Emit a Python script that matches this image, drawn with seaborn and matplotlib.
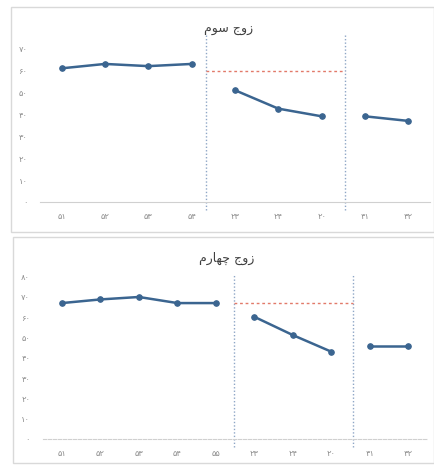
import pandas as pd
import seaborn as sns
import matplotlib.pyplot as plt
from matplotlib.patches import Rectangle

# =============================================================================
# DATA
# =============================================================================

# titles are pre-shaped (presentation forms, visual order) since matplotlib
# does not shape Arabic script
title_top = "\uFEE1\uFEEE\uFEB3 \uFE9D\uFEED\uFEAF"          # زوج سوم
title_bottom = "\uFEE1\uFEAD\uFE8E\uFEEC\uFB7C \uFE9D\uFEED\uFEAF"  # زوج چهارم

labels_top = ["۵۱", "۵۲", "۵۳", "۵۴", "۲۳", "۲۴", "۲۰", "۴۱", "۴۲"]
groups_top = [1, 1, 1, 1, 2, 2, 2, 3, 3]
values_top = [61, 63, 62, 63, 51, 42.6, 39.1, 39.1, 37]
ref_top = 60
seps_top = [3.33, 6.54]

labels_bottom = ["۵۱", "۵۲", "۵۳", "۵۴", "۵۵", "۲۳", "۲۴", "۲۰", "۴۱", "۴۲"]
groups_bottom = [1, 1, 1, 1, 1, 2, 2, 2, 3, 3]
values_bottom = [67, 68.8, 70, 67, 67, 60.2, 51.2, 43, 46, 46]
ref_bottom = 67
seps_bottom = [4.46, 7.57]

yticks_top = ["۰", "۱۰", "۲۰", "۳۰", "۴۰", "۵۰", "۶۰", "۷۰"]
yticks_bottom = ["۰", "۱۰", "۲۰", "۳۰", "۴۰", "۵۰", "۶۰", "۷۰", "۸۰"]

# =============================================================================
# STYLE
# =============================================================================

sns.set_style("white")
plt.rcParams["font.family"] = ["DejaVu Sans"]

line_color = "#3B6590"
sep_color = "#8EA6C6"
ref_color = "#E27A6A"
tick_color = "#8C8C8C"

fig = plt.figure(figsize=(4.34, 4.70), dpi=100)

# chart frames
fig.patches.append(Rectangle((11 / 434, 1 - 232 / 470), 423 / 434, 225 / 470,
                             transform=fig.transFigure, fill=False,
                             edgecolor="#D9D9D9", linewidth=1))
fig.patches.append(Rectangle((13 / 434, 1 - 463 / 470), 421 / 434, 226 / 470,
                             transform=fig.transFigure, fill=False,
                             edgecolor="#D9D9D9", linewidth=1))


def draw_panel(rect, labels, groups, values, ymax, yticks, seps, ref, vspan,
               axis_style):
    ax = fig.add_axes(rect)
    df = pd.DataFrame({
        "pos": range(len(labels)),
        "value": values,
        "group": groups
    })
    sns.lineplot(
        data=df, x="pos", y="value", units="group", estimator=None,
        color=line_color, marker="o", markersize=4,
        markeredgecolor=line_color, linewidth=1.8, ax=ax
    )
    for s in seps:
        ax.axvline(s, ymin=vspan[0], ymax=vspan[1], color=sep_color,
                   linestyle=(0, (1, 1.5)), linewidth=1, clip_on=False)
    ax.hlines(ref, seps[0], seps[1], color=ref_color,
              linestyle=(0, (2, 2)), linewidth=1)
    ax.set_xlim(-0.5, len(labels) - 0.5)
    ax.set_ylim(0, ymax)
    ax.set_xticks(range(len(labels)))
    ax.set_xticklabels(labels)
    ax.set_yticks(range(0, ymax + 1, 10))
    ax.set_yticklabels(yticks)
    ax.tick_params(axis="both", length=0, labelsize=6, colors=tick_color)
    ax.tick_params(axis="x", pad=7)
    ax.tick_params(axis="y", pad=9)
    ax.set_xlabel("")
    ax.set_ylabel("")
    for side in ["top", "right", "left"]:
        ax.spines[side].set_visible(False)
    ax.spines["bottom"].set_color("#D0D0D0")
    ax.spines["bottom"].set_linestyle(axis_style)
    ax.patch.set_alpha(0)
    return ax


draw_panel([40 / 434, 1 - 202 / 470, 390 / 434, 153.4 / 470],
           labels_top, groups_top, values_top, 70, yticks_top,
           seps_top, ref_top, (-0.052, 1.089), "-")

draw_panel([42.7 / 434, 1 - 439 / 470, 385 / 434, 162.3 / 470],
           labels_bottom, groups_bottom, values_bottom, 80, yticks_bottom,
           seps_bottom, ref_bottom, (-0.049, 1.01), (0, (3, 1.5)))

fig.text(229 / 434, 1 - 29 / 470, title_top, ha="center", va="center",
         fontsize=9, color="#404040")
fig.text(227 / 434, 1 - 258 / 470, title_bottom, ha="center", va="center",
         fontsize=9, color="#404040")

plt.savefig("out.png", dpi=100)
